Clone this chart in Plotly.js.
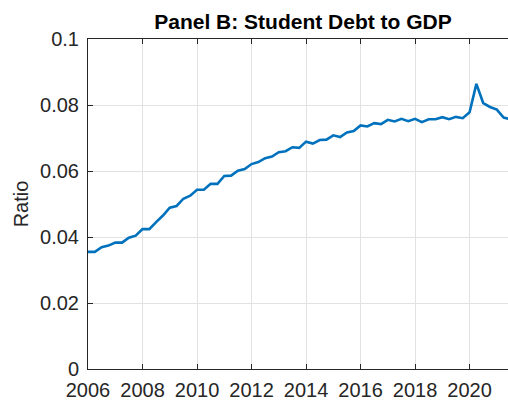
<!DOCTYPE html>
<html>
<head>
<meta charset="utf-8">
<script src="https://cdn.plot.ly/plotly-3.0.1.min.js"></script>
<style>html,body{margin:0;padding:0;background:#fff;}#chart{width:508px;height:400px;}</style>
</head>
<body>
<div id="chart"></div>
<script>
// Quarterly student debt to GDP ratio, starting 2006Q1
const startYear = 2006;
const ratio = [
  0.0355, 0.0355, 0.0369, 0.0374,
  0.0383, 0.0383, 0.0398, 0.0404,
  0.0424, 0.0424, 0.0445, 0.0465,
  0.0489, 0.0494, 0.0516, 0.0525,
  0.0543, 0.0543, 0.0561, 0.0561,
  0.0585, 0.0586, 0.0601, 0.0606,
  0.0621, 0.0627, 0.0639, 0.0644,
  0.0657, 0.0660, 0.0672, 0.0670,
  0.0689, 0.0683, 0.0694, 0.0695,
  0.0708, 0.0703, 0.0717, 0.0721,
  0.0738, 0.0735, 0.0745, 0.0742,
  0.0755, 0.0750, 0.0758, 0.0751,
  0.0758, 0.0748, 0.0757, 0.0757,
  0.0763, 0.0757, 0.0764, 0.0760,
  0.0778, 0.0864, 0.0806, 0.0794,
  0.0786, 0.0762, 0.0757
];
const xTickVals = [2006, 2008, 2010, 2012, 2014, 2016, 2018, 2020];
const xTickText = ["2006", "2008", "2010", "2012", "2014", "2016", "2018", "2020"];
const yTickVals = [0, 0.02, 0.04, 0.06, 0.08, 0.1];
const yTickText = ["0", "0.02", "0.04", "0.06", "0.08", "0.1"];

const x = ratio.map((_, i) => startYear + i / 4);

const fontFam = '"Liberation Sans", Arial, Helvetica, sans-serif';
const axisCol = '#262626';
const gridCol = '#e2e2e2';

const trace = {
  x: x, y: ratio, type: 'scatter', mode: 'lines',
  line: {color: '#0072BD', width: 2.6},
  hoverinfo: 'skip', showlegend: false
};

const layout = {
  width: 508, height: 400,
  margin: {l: 88, r: 0, t: 39, b: 31, pad: 0},
  paper_bgcolor: '#ffffff', plot_bgcolor: '#ffffff',
  font: {family: fontFam, color: axisCol, size: 20},
  title: {
    text: '<b>Panel B: Student Debt to GDP</b>',
    font: {family: fontFam, size: 21, color: '#000000'},
    x: 303 / 508, xref: 'container', xanchor: 'center',
    y: 1 - 22 / 400, yref: 'container', yanchor: 'middle'
  },
  xaxis: {
    range: [2006, 2021.41], autorange: false,
    tickmode: 'array', tickvals: xTickVals, ticktext: xTickText,
    ticks: 'inside', ticklen: 5, tickwidth: 1, tickcolor: axisCol,
    showline: true, linecolor: axisCol, linewidth: 1, mirror: 'ticks',
    showgrid: true, gridcolor: gridCol, gridwidth: 1,
    zeroline: false, automargin: false,
    tickfont: {family: fontFam, size: 20, color: axisCol},
    ticklabelstandoff: 3
  },
  yaxis: {
    range: [0, 0.1], autorange: false,
    tickmode: 'array', tickvals: yTickVals, ticktext: yTickText,
    ticks: 'inside', ticklen: 5, tickwidth: 1, tickcolor: axisCol,
    showline: true, linecolor: axisCol, linewidth: 1, mirror: false,
    showgrid: true, gridcolor: gridCol, gridwidth: 1,
    zeroline: false, automargin: false,
    tickfont: {family: fontFam, size: 20, color: axisCol},
    ticklabelstandoff: 4,
    title: {text: 'Ratio', font: {family: fontFam, size: 20, color: axisCol}, standoff: 6}
  }
};

Plotly.newPlot('chart', [trace], layout, {staticPlot: true, displayModeBar: false});
</script>
</body>
</html>
